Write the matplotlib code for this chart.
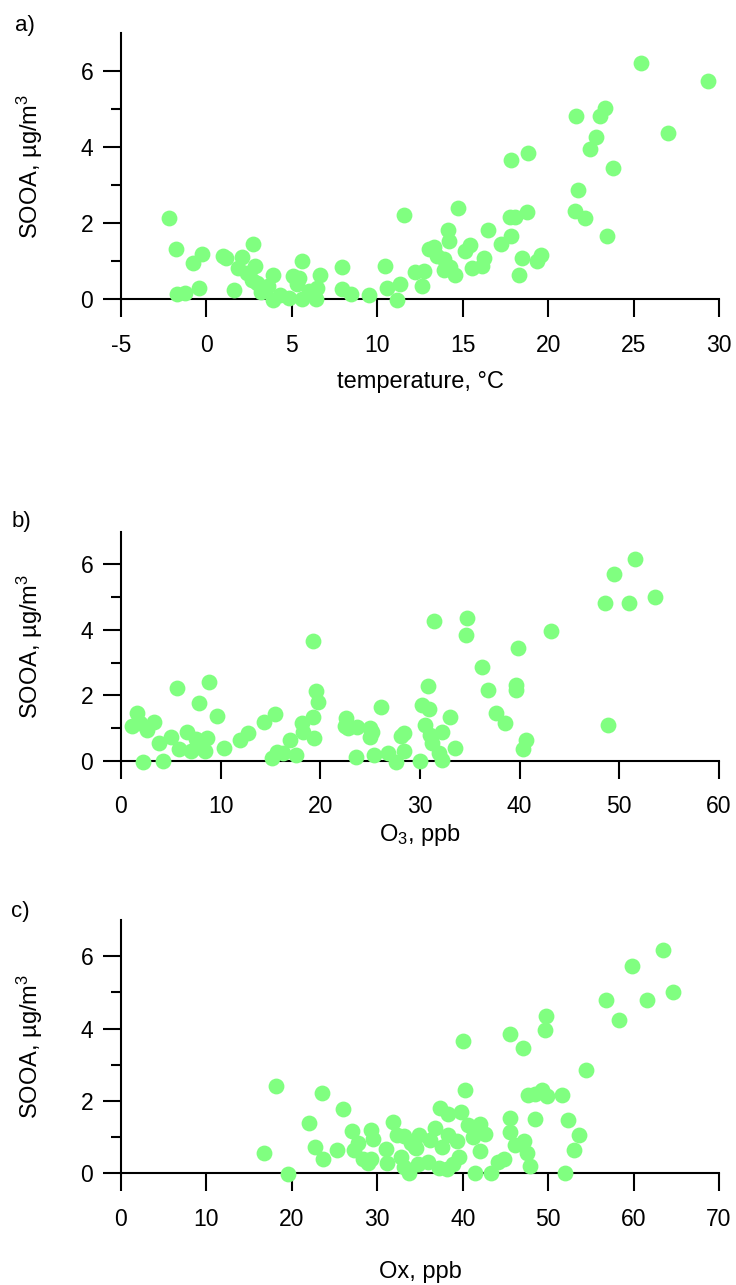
import numpy as np
import matplotlib
matplotlib.use("Agg")
import matplotlib.pyplot as plt

plt.rcParams['font.family'] = ['Liberation Sans', 'DejaVu Sans']
plt.rcParams['mathtext.fontset'] = 'custom'
plt.rcParams['mathtext.rm'] = 'Liberation Sans'
plt.rcParams['mathtext.it'] = 'Liberation Sans:italic'
plt.rcParams['axes.unicode_minus'] = False

# a) SOOA vs temperature
temp_c = [-2.17, -1.76, -1.70, -1.25, -0.76, -0.25, -0.41, 0.96, 1.15, 1.64,
          2.07, 2.71, 1.84, 2.36, 2.87, 2.65, 2.95, 3.20, 3.63, 3.89,
          3.89, 4.31, 4.86, 5.06, 5.41, 5.29, 5.60, 5.59, 6.03, 6.46,
          6.42, 6.64, 7.95, 7.93, 8.47, 9.49, 10.43, 10.57, 11.15, 11.34,
          11.56, 12.18, 12.60, 12.71, 13.00, 13.30, 13.49, 13.88, 14.12, 14.22,
          14.70, 13.88, 14.27, 14.53, 15.15, 15.41, 15.54, 16.13, 16.22, 16.48,
          17.26, 17.83, 17.83, 18.82, 17.79, 18.08, 18.77, 18.47, 19.35, 19.60,
          18.28, 21.65, 21.73, 21.58, 22.16, 22.43, 22.81, 23.02, 23.31, 23.78,
          23.47, 25.41, 26.99, 29.37]
sooa_a = [2.12, 1.31, 0.13, 0.15, 0.96, 1.18, 0.30, 1.12, 1.07, 0.23,
          1.10, 1.45, 0.81, 0.68, 0.86, 0.50, 0.41, 0.19, 0.33, 0.63,
          -0.03, 0.11, 0.02, 0.61, 0.55, 0.39, 0.99, -0.01, 0.22, 0.30,
          0.00, 0.63, 0.85, 0.26, 0.12, 0.11, 0.88, 0.28, -0.03, 0.39,
          2.22, 0.70, 0.34, 0.75, 1.31, 1.38, 1.12, 1.05, 1.81, 1.54,
          2.40, 0.77, 0.85, 0.63, 1.27, 1.41, 0.81, 0.88, 1.08, 1.81,
          1.45, 1.65, 3.66, 3.84, 2.15, 2.17, 2.28, 1.08, 1.01, 1.15,
          0.62, 4.82, 2.87, 2.31, 2.14, 3.96, 4.27, 4.81, 5.03, 3.46,
          1.67, 6.20, 4.36, 5.74]

# b) SOOA vs O3
o3_ppb = [1.07, 1.57, 1.90, 2.57, 3.31, 2.24, 3.81, 4.24, 5.01, 5.58,
          5.81, 6.58, 6.98, 7.52, 7.85, 8.09, 8.65, 8.42, 8.85, 9.65,
          10.32, 11.99, 12.76, 14.36, 15.50, 15.20, 15.70, 16.26, 17.00, 17.54,
          18.17, 18.27, 19.31, 19.34, 19.31, 19.61, 19.81, 22.55, 22.45, 22.78,
          23.72, 23.55, 25.02, 25.22, 25.02, 25.38, 26.12, 26.78, 27.55, 28.13,
          28.39, 28.39, 30.03, 30.23, 30.89, 30.80, 30.53, 31.03, 31.19, 31.36,
          31.90, 32.20, 32.23, 33.03, 33.47, 34.70, 34.64, 36.24, 36.80, 37.64,
          38.54, 39.65, 39.65, 39.88, 40.65, 40.35, 43.15, 48.57, 49.50, 48.90,
          51.00, 51.57, 53.54]
sooa_b = [1.07, 1.47, 1.14, 0.94, 1.19, -0.04, 0.55, 0.00, 0.73, 2.21,
          0.37, 0.88, 0.30, 0.66, 1.77, 0.40, 0.68, 0.31, 2.40, 1.38,
          0.40, 0.63, 0.84, 1.17, 1.42, 0.07, 0.26, 0.23, 0.63, 0.17,
          1.14, 0.89, 1.34, 0.68, 3.66, 2.13, 1.80, 1.31, 1.07, 0.99,
          1.02, 0.10, 0.99, 0.89, 0.71, 0.17, 1.65, 0.23, -0.03, 0.75,
          0.86, 0.30, 0.00, 1.70, 1.57, 2.29, 1.09, 0.79, 0.55, 4.27,
          0.23, 0.02, 0.89, 1.33, 0.39, 4.35, 3.84, 2.87, 2.15, 1.46,
          1.16, 2.31, 2.16, 3.45, 0.63, 0.35, 3.96, 4.83, 5.72, 1.08,
          4.83, 6.17, 5.01]

# c) SOOA vs Ox
ox_ppb = [16.74, 18.11, 19.59, 22.05, 23.50, 22.72, 23.69, 25.26, 26.03, 27.01,
          27.79, 27.28, 28.37, 29.24, 29.54, 29.24, 28.96, 30.99, 31.18, 31.89,
          32.28, 33.14, 33.92, 32.75, 33.14, 33.76, 34.43, 34.93, 34.54, 34.81,
          35.99, 36.18, 36.77, 37.35, 38.33, 37.55, 37.27, 38.14, 38.33, 39.31,
          38.91, 39.61, 39.81, 40.08, 40.28, 40.67, 41.18, 42.04, 42.62, 42.04,
          41.45, 43.29, 44.18, 44.85, 45.55, 45.55, 45.55, 46.14, 47.19, 47.50,
          47.89, 47.11, 47.62, 48.48, 49.33, 49.85, 48.48, 49.77, 49.65, 51.68,
          52.31, 51.99, 53.63, 53.08, 54.45, 56.75, 58.31, 59.80, 61.63, 63.50,
          64.67]
sooa_c = [0.55, 2.41, -0.03, 1.39, 2.22, 0.72, 0.40, 0.64, 1.77, 1.17,
          0.84, 0.64, 0.39, 1.21, 0.94, 0.39, 0.28, 0.66, 0.29, 1.42,
          1.07, 1.03, 0.83, 0.46, 0.18, 0.00, 0.73, 1.07, 0.71, 0.26,
          0.30, 0.92, 1.26, 1.81, 1.65, 0.73, 0.15, 0.11, 1.05, 0.90,
          0.25, 0.44, 1.70, 3.65, 2.29, 1.33, 1.01, 1.36, 1.08, 0.62,
          0.00, 0.00, 0.32, 0.39, 3.84, 1.54, 1.15, 0.78, 0.89, 0.55,
          0.20, 3.46, 2.16, 2.18, 2.29, 2.13, 1.49, 4.35, 3.95, 2.16,
          1.47, 0.00, 1.07, 0.64, 2.86, 4.80, 4.25, 5.72, 4.80, 6.17,
          5.02]

GREEN = '#80ff80'
Y_LABEL = 'SOOA, µg/m$^3$'


def style_panel(ax, xticks, xlabel, xlabel_y):
    ax.set_xlim(xticks[0], xticks[-1])
    ax.set_ylim(0, 7)
    ax.set_xticks(xticks)
    ax.set_yticks([0, 2, 4, 6])
    ax.set_yticks([1, 3, 5], minor=True)
    for side in ['top', 'right']:
        ax.spines[side].set_visible(False)
    for side in ['left', 'bottom']:
        ax.spines[side].set_linewidth(1.5)
    ax.tick_params(axis='both', which='major', direction='out', length=13,
                   width=1.5, labelsize=16.5)
    ax.tick_params(axis='x', pad=12)
    ax.tick_params(axis='y', pad=7)
    ax.tick_params(axis='y', which='minor', direction='out', length=7, width=1.5)
    ax.text(-0.152, 0.5, Y_LABEL, transform=ax.transAxes, rotation=90,
            ha='center', va='center', fontsize=17)
    ax.text(0.5, xlabel_y, xlabel, transform=ax.transAxes,
            ha='center', va='center', fontsize=17)


fig = plt.figure(figsize=(7.36, 12.85), dpi=100)

ax_a = fig.add_axes([0.1644, 0.7673, 0.8125, 0.2070])
ax_b = fig.add_axes([0.1644, 0.4080, 0.8125, 0.1782])
ax_c = fig.add_axes([0.1644, 0.0869, 0.8125, 0.1971])

for ax, xs, ys in [(ax_a, temp_c, sooa_a), (ax_b, o3_ppb, sooa_b), (ax_c, ox_ppb, sooa_c)]:
    ax.scatter(xs, ys, s=130, color=GREEN, linewidths=0, zorder=3, clip_on=False)

style_panel(ax_a, list(range(-5, 31, 5)), 'temperature, °C', -0.312)
style_panel(ax_b, list(range(0, 61, 10)), 'O$_3$, ppb', -0.324)
style_panel(ax_c, list(range(0, 71, 10)), 'Ox, ppb', -0.388)

fig.text(25 / 736, 1 - 25 / 1285, 'a)', ha='center', va='center', fontsize=16)
fig.text(21 / 736, 1 - 521 / 1285, 'b)', ha='center', va='center', fontsize=16)
fig.text(20 / 736, 1 - 911 / 1285, 'c)', ha='center', va='center', fontsize=16)

fig.savefig('out.png', dpi=100)
